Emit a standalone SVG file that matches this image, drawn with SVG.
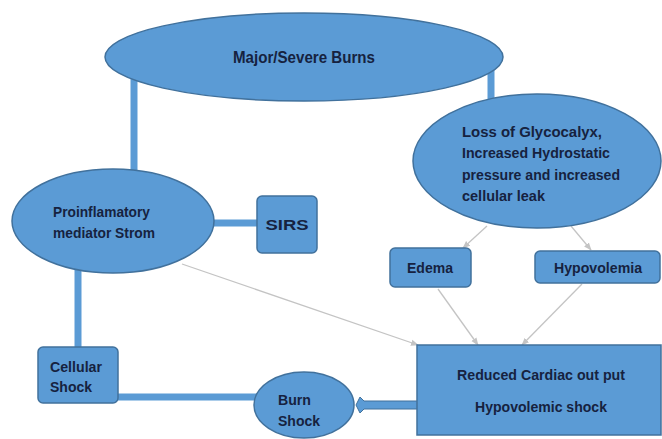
<svg xmlns="http://www.w3.org/2000/svg" width="662" height="439" viewBox="0 0 662 439">
<defs>
<style>
.node{fill:#5b9bd5;stroke:#41719c;stroke-width:1.5}
.t{font-family:"Liberation Sans",Arial,sans-serif;font-weight:bold;fill:#16223f}
.thick{stroke:#5b9bd5;stroke-width:7;fill:none}
.thin{stroke:#c4c4c4;stroke-width:1.3;fill:none}
</style>
<marker id="ah" viewBox="0 0 10 10" refX="9" refY="5" markerWidth="6" markerHeight="6" orient="auto-start-reverse">
<path d="M0,1 L10,5 L0,9 z" fill="#c4c4c4"/>
</marker>
</defs>
<rect width="662" height="439" fill="#ffffff"/>
<g id="connectors">
<line class="thick" x1="134" y1="78" x2="134" y2="172"/>
<line class="thick" x1="491" y1="70" x2="491" y2="101"/>
<line class="thick" x1="210" y1="223" x2="258" y2="223"/>
<line class="thick" x1="78" y1="268" x2="78" y2="348"/>
<line class="thick" x1="116" y1="397" x2="258" y2="397"/>
<path d="M418,401 L364,401 L360,397 L356,405 L360,413 L364,409 L418,409 Z" fill="#5b9bd5" stroke="#41719c" stroke-width="1"/>
<line class="thin" x1="487" y1="226" x2="463" y2="248" marker-end="url(#ah)"/>
<line class="thin" x1="571" y1="226" x2="591" y2="250" marker-end="url(#ah)"/>
<line class="thin" x1="438" y1="289" x2="478" y2="345" marker-end="url(#ah)"/>
<line class="thin" x1="582" y1="284" x2="522" y2="345" marker-end="url(#ah)"/>
<line class="thin" x1="182" y1="264" x2="418" y2="345" marker-end="url(#ah)"/>
</g>
<g id="major">
<ellipse class="node" cx="304" cy="57" rx="199" ry="44"/>
<text class="t" x="304" y="63" font-size="17" text-anchor="middle" textLength="142" lengthAdjust="spacingAndGlyphs">Major/Severe Burns</text>
</g>
<g id="loss">
<ellipse class="node" cx="537" cy="161" rx="124" ry="67"/>
<text class="t" x="462" y="137" font-size="15" textLength="140" lengthAdjust="spacingAndGlyphs">Loss of Glycocalyx,</text>
<text class="t" x="462" y="158" font-size="15" textLength="148" lengthAdjust="spacingAndGlyphs">Increased Hydrostatic</text>
<text class="t" x="462" y="180" font-size="15" textLength="158" lengthAdjust="spacingAndGlyphs">pressure and increased</text>
<text class="t" x="462" y="201" font-size="15" textLength="83" lengthAdjust="spacingAndGlyphs">cellular leak</text>
</g>
<g id="proinflamatory">
<ellipse class="node" cx="113" cy="221" rx="101" ry="52"/>
<text class="t" x="53" y="217" font-size="14" textLength="97" lengthAdjust="spacingAndGlyphs">Proinflamatory</text>
<text class="t" x="53" y="238" font-size="14" textLength="102" lengthAdjust="spacingAndGlyphs">mediator Strom</text>
</g>
<g id="sirs">
<rect class="node" x="257" y="196" width="60" height="57" rx="5"/>
<text class="t" x="287" y="230" font-size="14" text-anchor="middle" textLength="43" lengthAdjust="spacingAndGlyphs">SIRS</text>
</g>
<g id="edema">
<rect class="node" x="390" y="248" width="81" height="39" rx="5"/>
<text class="t" x="430" y="273" font-size="14" text-anchor="middle" textLength="46" lengthAdjust="spacingAndGlyphs">Edema</text>
</g>
<g id="hypovolemia">
<rect class="node" x="535" y="251" width="125" height="32" rx="5"/>
<text class="t" x="598" y="273" font-size="14" text-anchor="middle" textLength="88" lengthAdjust="spacingAndGlyphs">Hypovolemia</text>
</g>
<g id="reduced">
<rect class="node" x="417" y="345" width="244" height="90"/>
<text class="t" x="541" y="380" font-size="15" text-anchor="middle" textLength="168" lengthAdjust="spacingAndGlyphs">Reduced Cardiac out put</text>
<text class="t" x="541" y="412" font-size="15" text-anchor="middle" textLength="132" lengthAdjust="spacingAndGlyphs">Hypovolemic shock</text>
</g>
<g id="cellular">
<rect class="node" x="38" y="347" width="80" height="56" rx="5"/>
<text class="t" x="50" y="372" font-size="14" textLength="52" lengthAdjust="spacingAndGlyphs">Cellular</text>
<text class="t" x="50" y="392" font-size="14" textLength="42" lengthAdjust="spacingAndGlyphs">Shock</text>
</g>
<g id="burnshock">
<ellipse class="node" cx="304" cy="405" rx="50" ry="33"/>
<text class="t" x="278" y="405" font-size="14" textLength="33" lengthAdjust="spacingAndGlyphs">Burn</text>
<text class="t" x="278" y="426" font-size="14" textLength="42" lengthAdjust="spacingAndGlyphs">Shock</text>
</g>
</svg>
